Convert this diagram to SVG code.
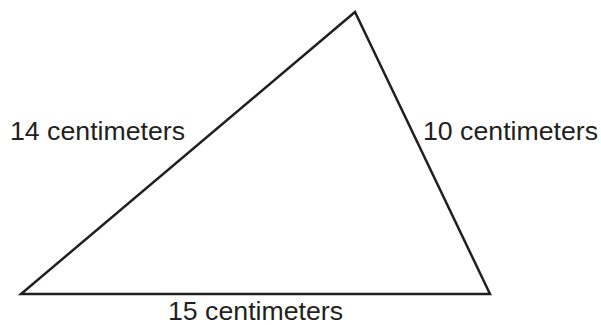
<svg xmlns="http://www.w3.org/2000/svg" width="601" height="325" viewBox="0 0 601 325">
<style>
.edge{fill:none;stroke:#231f20;stroke-width:2.5;stroke-linejoin:miter}
.lbl{font-family:"Liberation Sans",Arial,sans-serif;font-size:26.7px;fill:#231f20}
</style>
<rect width="601" height="325" fill="#fff"/>
<g id="connectors">
<polygon class="edge" points="355,12 21,294 490,294"/>
</g>
<g id="label-left"><text class="lbl" x="10" y="140">14 centimeters</text></g>
<g id="label-right"><text class="lbl" x="423" y="140">10 centimeters</text></g>
<g id="label-bottom"><text class="lbl" x="168" y="320">15 centimeters</text></g>
</svg>
